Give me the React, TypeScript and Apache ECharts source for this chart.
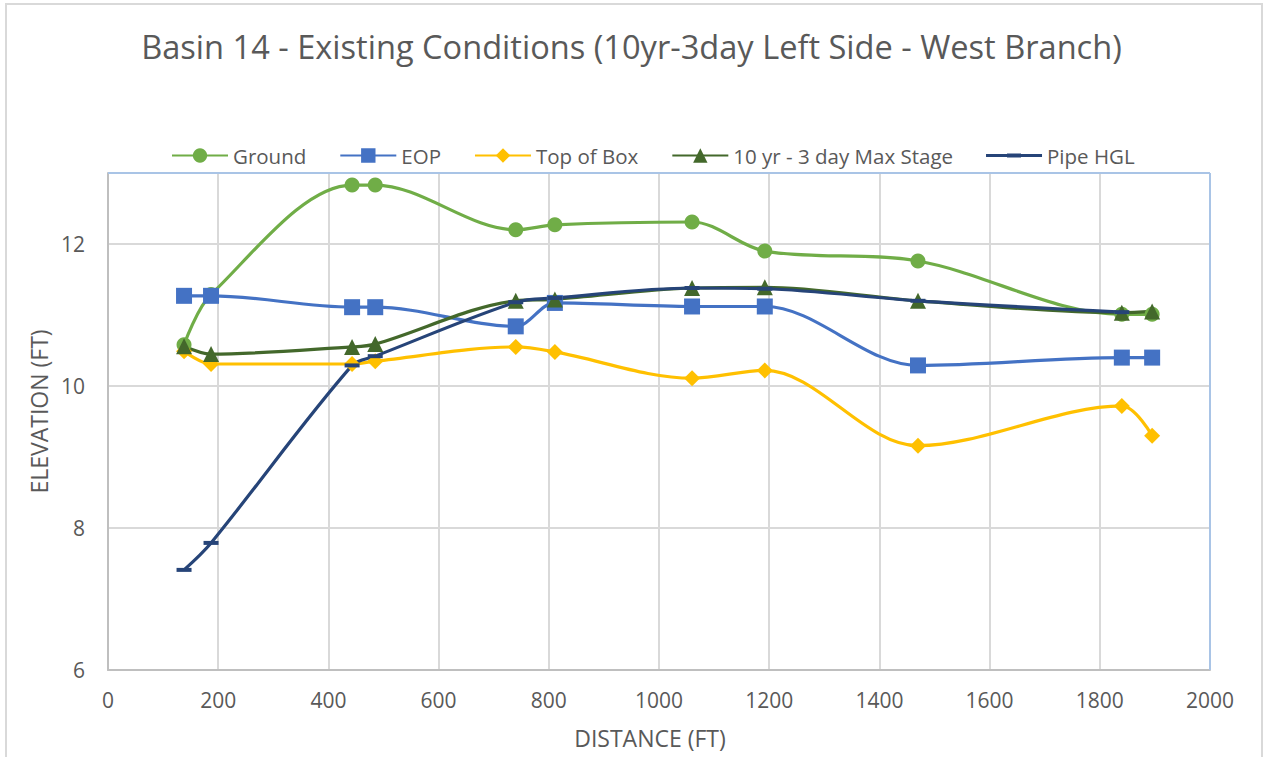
import React, { useEffect, useRef } from "react";
import * as echarts from "echarts";

const distance = [138, 187, 443, 485, 740, 811, 1060, 1192, 1470, 1840, 1895];
const ground = [10.58, 11.29, 12.83, 12.83, 12.2, 12.27, 12.31, 11.9, 11.76, 11.01, 11.01];
const eop = [11.27, 11.27, 11.11, 11.11, 10.84, 11.17, 11.12, 11.12, 10.29, 10.4, 10.4];
const topOfBox = [10.49, 10.31, 10.31, 10.35, 10.55, 10.48, 10.11, 10.22, 9.16, 9.72, 9.3];
const maxStage = [10.56, 10.45, 10.55, 10.59, 11.2, 11.22, 11.38, 11.39, 11.2, 11.03, 11.05];
const pipeHGL = [7.41, 7.79, 10.29, 10.42, 11.18, 11.24, 11.38, 11.37, 11.2, 11.04];

const seriesNames = ["Ground", "EOP", "Top of Box", "10 yr - 3 day Max Stage", "Pipe HGL"];
const seriesColors = ["#70AD47", "#4472C4", "#FFC000", "#43682B", "#264478"];

const pairs = (ys: number[]) => ys.map((y, i) => [distance[i], y]);

export default function App() {
  const ref = useRef<HTMLDivElement>(null);
  useEffect(() => {
    document.body.style.margin = "0";
    const chart = echarts.init(ref.current!, null, { renderer: "svg" });
    const font = "'Open Sans', sans-serif";
    const txt = "#595959";
    const gl = 108, gr = 1210, gt = 173, gb = 670;
    const mk = (i: number, data: number[], symbol: string, size: any) => ({
      name: seriesNames[i],
      type: "line",
      data: pairs(data),
      smooth: 0.33,
      symbol,
      symbolSize: size,
      itemStyle: { color: seriesColors[i] },
      lineStyle: { color: seriesColors[i], width: 3.2 },
    });
    chart.setOption({
      animation: false,
      backgroundColor: "#ffffff",
      textStyle: { fontFamily: font },
      title: {
        text: "Basin 14 - Existing Conditions (10yr-3day Left Side - West Branch)",
        left: "center",
        top: 25,
        textStyle: { fontFamily: font, fontSize: 32.6, fontWeight: "normal", color: txt },
      },
      legend: {
        top: 140,
        left: 166,
        itemWidth: 56,
        itemHeight: 18,
        itemGap: 33,
        textStyle: { fontFamily: font, fontSize: 20.5, color: txt },
        data: seriesNames.map((n) =>
          n === "Pipe HGL"
            ? { name: n, icon: "path://M0,7.5H21V7H35V7.5H56V10.5H35V11H21V10.5H0Z" }
            : n
        ),
      },
      grid: { left: gl, right: 1263 - gr, top: gt, bottom: 757 - gb, containLabel: false },
      xAxis: {
        type: "value",
        min: 0,
        max: 2000,
        interval: 200,
        name: "DISTANCE (FT)",
        nameLocation: "middle",
        nameGap: 56,
        nameTextStyle: { fontFamily: font, fontSize: 23, color: txt, padding: [0, 18, 0, 0] },
        axisLine: { show: true, lineStyle: { color: "#BFBFBF", width: 2 } },
        axisTick: { show: false },
        axisLabel: { color: txt, fontSize: 21, fontFamily: font, margin: 19, formatter: (v: number) => String(v) },
        splitLine: { show: true, lineStyle: { color: "#D9D9D9", width: 2 } },
      },
      yAxis: {
        type: "value",
        min: 6,
        max: 13,
        interval: 2,
        name: "ELEVATION (FT)",
        nameLocation: "middle",
        nameGap: 58,
        nameRotate: 90,
        nameTextStyle: { fontFamily: font, fontSize: 23, color: txt, padding: [0, 0, 0, 20] },
        axisLine: { show: true, lineStyle: { color: "#BFBFBF", width: 2 } },
        axisTick: { show: false },
        axisLabel: { color: txt, fontSize: 21, fontFamily: font, margin: 23, showMaxLabel: false },
        splitLine: { show: true, lineStyle: { color: "#D9D9D9", width: 2 } },
      },
      graphic: [
        {
          type: "rect",
          shape: { x: 6, y: 4, width: 1256, height: 780 },
          style: { fill: "none", stroke: "#D9D9D9", lineWidth: 2 },
          silent: true,
          z: -1,
        },
        {
          type: "line",
          shape: { x1: gl, y1: gt, x2: gr, y2: gt },
          style: { stroke: "#A9C4E6", lineWidth: 2 },
          z: 1,
        },
        {
          type: "line",
          shape: { x1: gr, y1: gt, x2: gr, y2: gb },
          style: { stroke: "#A9C4E6", lineWidth: 2 },
          z: 1,
        },
      ],
      series: [
        mk(0, ground, "circle", 15),
        mk(1, eop, "rect", 16),
        mk(2, topOfBox, "diamond", 16),
        mk(3, maxStage, "triangle", 16),
        mk(4, pipeHGL, "rect", [15, 4]),
      ],
    });
    return () => chart.dispose();
  }, []);
  return <div ref={ref} style={{ width: 1263, height: 757 }} />;
}
